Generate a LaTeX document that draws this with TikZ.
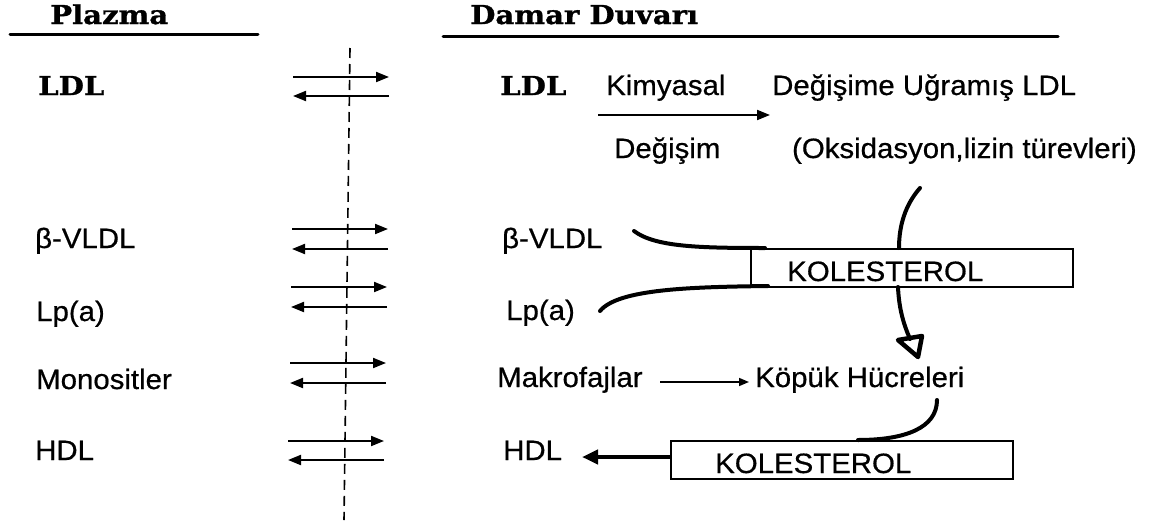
\documentclass[tikz,border=0pt]{standalone}
\usepackage{fontspec}
\setmainfont{Liberation Sans}[FakeStretch=1.05,FakeBold=0.6]
\newfontfamily\slabfont{DejaVu Serif}[FakeStretch=1.12,FakeBold=1.2]
\usetikzlibrary{arrows.meta}

\begin{document}
\begin{tikzpicture}[x=1pt,y=-1pt,
  lbl/.style={anchor=base west,inner sep=0pt,font=\fontsize{28}{32}\selectfont},
  head/.style={anchor=base west,inner sep=0pt,font=\fontsize{26}{30}\selectfont\slabfont\bfseries},
  flow/.style={line width=2pt,-{Triangle[length=13pt,width=10pt]}},
  thin flow/.style={line width=1.5pt,-{Triangle[length=10pt,width=8pt]}},
  heavy/.style={line width=4pt,line cap=round},
  rule/.style={line width=3pt,line cap=round},
  boxframe/.style={draw,line width=2pt,inner sep=0pt,anchor=north west}
]
\useasboundingbox (0,0) rectangle (1150,522);

% ---------- column headings ----------
\node[head] (plazma) at (50,24) {Plazma};
\node[head] (damar)  at (470,24) {Damar Duvarı};
\coordinate (pl1) at (10,34);   \coordinate (pl2) at (258,34);
\coordinate (dd1) at (443,36);  \coordinate (dd2) at (1058,36);
\draw[rule] (pl1) -- (pl2);
\draw[rule] (dd1) -- (dd2);

% ---------- membrane ----------
\coordinate (m1) at (350,48);
\coordinate (m2) at (344,520);
\draw[line width=1.6pt,dash pattern=on 10pt off 6pt] (m1) -- (m2);

% ---------- plasma side ----------
\node[head] (ldlA) at (38,95) {LDL};
\node[lbl] (vldlA) at (35,248) {β-VLDL};
\node[lbl] (lpaA)  at (36,321) {Lp(a)};
\node[lbl] (monoA) at (36,389) {Monositler};
\node[lbl] (hdlA)  at (35,460) {HDL};

% exchange arrows across the membrane
\coordinate (e1a) at (293,77);  \coordinate (e1b) at (389,77);
\coordinate (e1c) at (389,96);  \coordinate (e1d) at (293,96);
\coordinate (e2a) at (292,229); \coordinate (e2b) at (388,229);
\coordinate (e2c) at (388,249); \coordinate (e2d) at (292,249);
\coordinate (e3a) at (291,287); \coordinate (e3b) at (387,287);
\coordinate (e3c) at (387,307); \coordinate (e3d) at (291,307);
\coordinate (e4a) at (290,363); \coordinate (e4b) at (386,363);
\coordinate (e4c) at (386,383); \coordinate (e4d) at (290,383);
\coordinate (e5a) at (288,441); \coordinate (e5b) at (384,441);
\coordinate (e5c) at (384,460); \coordinate (e5d) at (288,460);
\foreach \i in {1,...,5}{
  \draw[flow] (e\i a) -- (e\i b);
  \draw[flow] (e\i c) -- (e\i d);
}

% ---------- vessel wall side ----------
\node[head] (ldlB)  at (500,95) {LDL};
\node[lbl] (kim)    at (606,95) {Kimyasal};
\node[lbl] (degis)  at (772,95) {Değişime Uğramış LDL};
\node[lbl] (dgsm)   at (614,158) {Değişim};
\node[lbl,anchor=base east] (oks) at (1137,158) {(Oksidasyon,lizin türevleri)};
\coordinate (k1) at (598,115); \coordinate (k2) at (770,115);
\draw[flow] (k1) -- (k2);

\node[lbl] (vldlB) at (502,248) {β-VLDL};
\node[lbl] (lpaB)  at (506,320) {Lp(a)};

% upper cholesterol box
\node[boxframe,minimum width=322pt,minimum height=38pt] (kol1) at (750,248) {};
\node[lbl] (kol1t) at (787,281) {KOLESTEROL};

\coordinate (vb) at (634,231);
\coordinate (lb) at (600,311);
\coordinate (ox) at (920,188);
\draw[heavy] (vb) .. controls (655,247) and (700,248) .. (765,248);
\draw[heavy] (lb) .. controls (618,289) and (690,287) .. (768,286);
\draw[heavy] (ox) .. controls (905,205) and (899,226) .. (899,248);

% uptake into foam cells, ending in a heavy outlined head
\coordinate (kd1) at (898,287);
\coordinate (kd2) at (910,339);
\coordinate (tip) at (918,357);
\draw[heavy] (kd1) .. controls (899,310) and (904,325) .. (kd2);
\draw[line width=4.5pt,line join=round] (tip) -- ++(-20,-17) -- ++(24,-4) -- cycle;

% macrophage row
\node[lbl] (makro) at (497,387) {Makrofajlar};
\node[lbl] (kopuk) at (755,387) {Köpük Hücreleri};
\coordinate (mk1) at (660,382); \coordinate (mk2) at (749,382);
\draw[thin flow] (mk1) -- (mk2);

% lower cholesterol box and HDL efflux
\node[lbl] (hdlB) at (503,460) {HDL};
\node[boxframe,minimum width=342pt,minimum height=38pt] (kol2) at (670,440) {};
\node[lbl] (kol2t) at (715,473) {KOLESTEROL};
\coordinate (kc) at (937,400);
\draw[heavy] (kc) .. controls (937,428) and (905,440) .. (858,440);
\coordinate (h1) at (670,457);
\coordinate (h2) at (582,457);
\draw[line width=4pt,-{Triangle[length=16pt,width=14pt]}] (h1) -- (h2);
\end{tikzpicture}
\end{document}
